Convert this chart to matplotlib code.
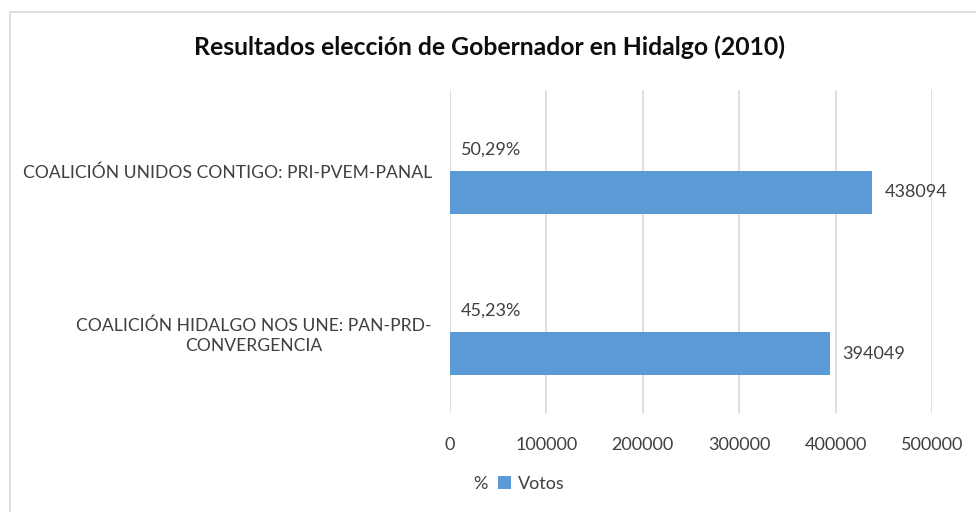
import matplotlib.pyplot as plt
import numpy as np
from matplotlib.patches import Rectangle

BLUE = "#5B9BD5"
GRID = "#D9D9D9"
INK = "#404040"

categories = [
    "COALICIÓN UNIDOS CONTIGO: PRI-PVEM-PANAL",
    "COALICIÓN HIDALGO NOS UNE: PAN-PRD-\nCONVERGENCIA",
]
votos = [438094, 394049]
pct = [50.29, 45.23]
pct_labels = ["50,29%", "45,23%"]
xticks = [0, 100000, 200000, 300000, 400000, 500000]

plt.rcParams["font.family"] = ["Lato", "DejaVu Sans"]

fig = plt.figure(figsize=(9.76, 5.12), dpi=100)
fig.patches.append(Rectangle((10 / 976, -0.1), 1.2, 1 - 12 / 512 + 0.1,
                             transform=fig.transFigure, fill=False,
                             edgecolor=GRID, linewidth=1.2))
ax = fig.add_axes([450 / 976, 1 - 413 / 512, 482 / 976, 323 / 512])

y = np.arange(len(categories))
h = 0.266
ax.barh(y - h / 2, pct, height=h, color="none", label="%")
bars = ax.barh(y + h / 2, votos, height=h, color=BLUE, label="Votos")

for yi, p, lab in zip(y, pct, pct_labels):
    ax.text(p + 11000, yi - h / 2, lab, va="center", ha="left",
            fontsize=13, color=INK)
for bar, v in zip(bars, votos):
    ax.text(bar.get_width() + 13000, bar.get_y() + bar.get_height() / 2,
            str(v), va="center", ha="left", fontsize=13, color=INK)

ax.set_xlim(0, 500000)
ax.set_ylim(1.5, -0.5)
ax.set_xticks(xticks, [str(t) for t in xticks])
ax.set_yticks(y, categories)
ax.tick_params(length=0, labelsize=13, labelcolor=INK)
ax.tick_params(axis="y", pad=13, labelsize=12.6)
ax.tick_params(axis="x", pad=17)
for lab in ax.get_yticklabels():
    lab.set_multialignment("center")
    lab.set_linespacing(1.3)
for s in ax.spines.values():
    s.set_visible(False)
ax.grid(axis="x", color=GRID, linewidth=1.2)
ax.set_axisbelow(True)

fig.suptitle("Resultados elección de Gobernador en Hidalgo (2010)",
             x=489 / 976, y=1 - 47 / 512, va="center",
             fontsize=17.8, fontweight="bold", color="#0D0D0D")
fig.legend(loc="center", bbox_to_anchor=(509 / 976, 1 - 484 / 512), ncol=2,
           frameon=False, fontsize=13, handlelength=0.7, handleheight=0.7,
           columnspacing=0.6, handletextpad=0.4, labelcolor=INK)

fig.savefig("out.png", dpi=100)
